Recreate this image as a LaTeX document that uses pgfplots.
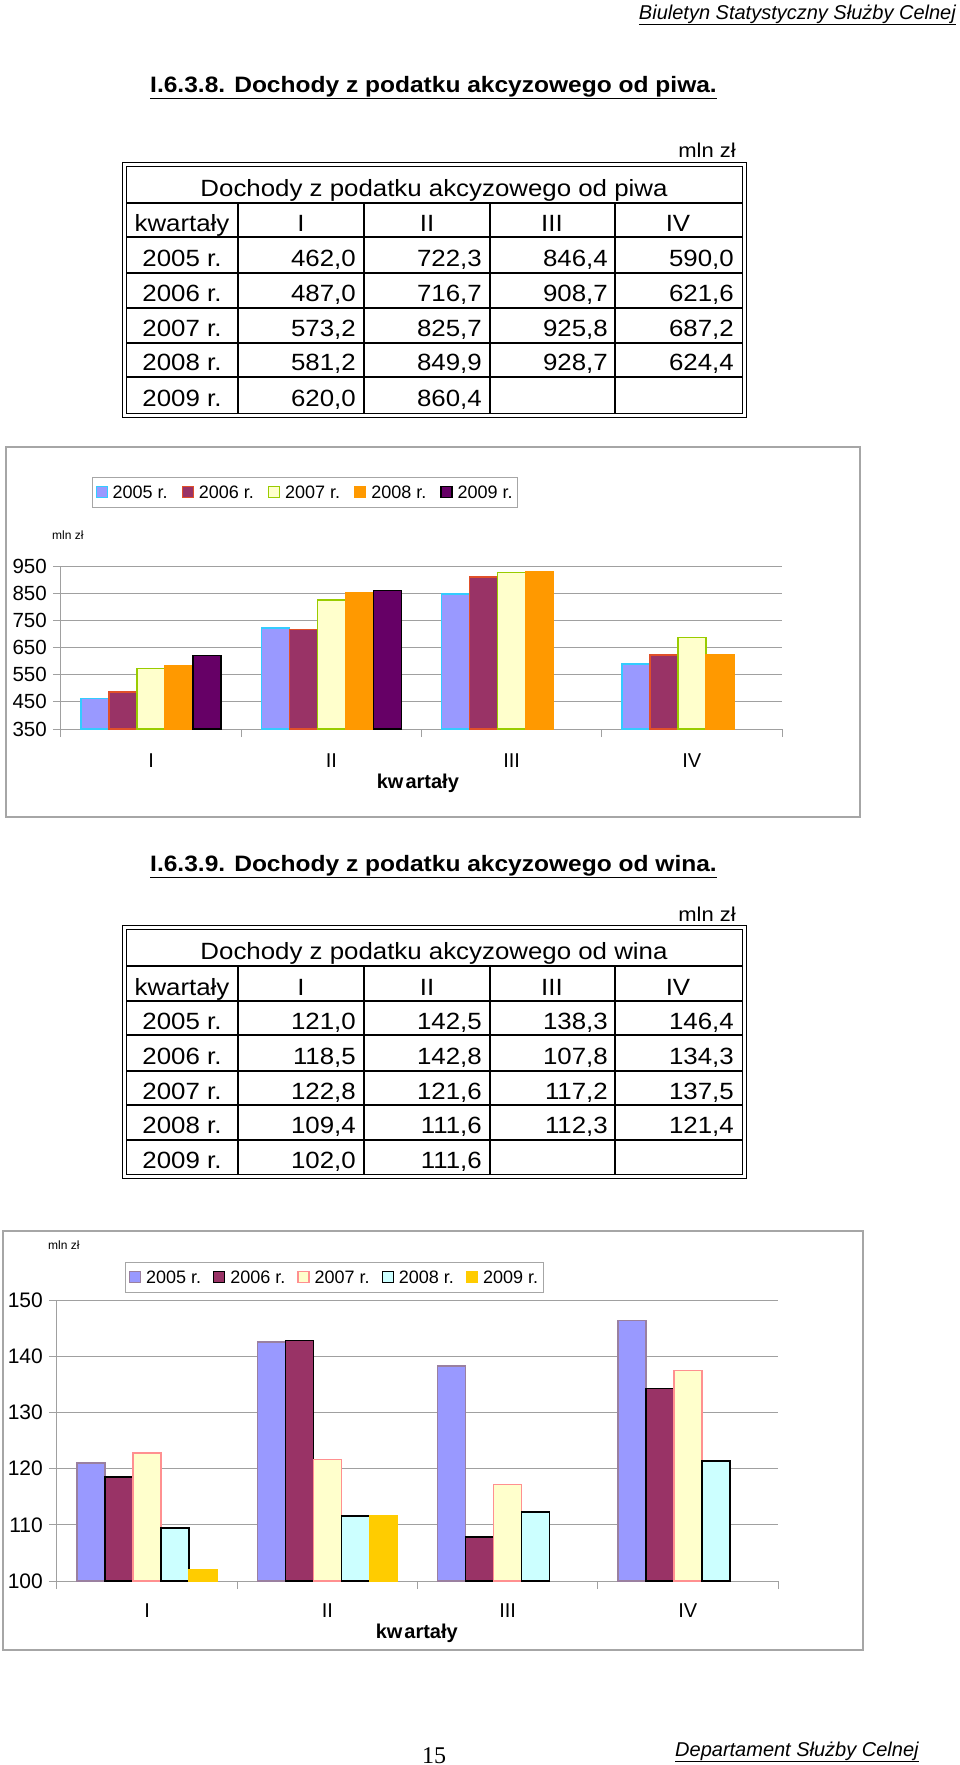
\documentclass[border=0pt]{standalone}
\usepackage{pgfplots}
\pgfplotsset{compat=1.18}
\usepackage{fontspec}
\setmainfont{Liberation Sans}
\newfontfamily\tabfont[FakeStretch=1.1]{Liberation Sans}
\newfontfamily\serifont{Liberation Serif}
\newcommand\fs[1]{\fontsize{#1}{#1}\selectfont}
% chart 1 colours
\definecolor{aF}{HTML}{9999FF}\definecolor{aD}{HTML}{33CCFF}
\definecolor{bF}{HTML}{993366}\definecolor{bD}{HTML}{E0502A}
\definecolor{cF}{HTML}{FFFFCC}\definecolor{cD}{HTML}{99CC00}
\definecolor{dF}{HTML}{FF9900}\definecolor{dD}{HTML}{FF9900}
\definecolor{eF}{HTML}{660066}\definecolor{eD}{HTML}{000000}
% chart 2 colours
\definecolor{fF}{HTML}{9999FF}\definecolor{fD}{HTML}{9A80A0}
\definecolor{gF}{HTML}{993366}\definecolor{gD}{HTML}{000000}
\definecolor{hF}{HTML}{FFFFCC}\definecolor{hD}{HTML}{FF9090}
\definecolor{iF}{HTML}{CCFFFF}\definecolor{iD}{HTML}{000000}
\definecolor{jF}{HTML}{FFCC00}\definecolor{jD}{HTML}{FFCC00}
\definecolor{gridc}{HTML}{A0A0A0}
\definecolor{framec}{HTML}{A6A6A6}
% one table row: baseline, year, four values
\newcommand\trow[6]{%
  \node[anchor=base, inner sep=0pt] at (182,#1) {#2 r.};
  \node[anchor=base east, inner sep=0pt] at (356,#1) {#3};
  \node[anchor=base east, inner sep=0pt] at (482,#1) {#4};
  \node[anchor=base east, inner sep=0pt] at (608,#1) {#5};
  \node[anchor=base east, inner sep=0pt] at (734,#1) {#6};
}
\pgfplotsset{
  barchart/.style={
    scale only axis, width=721pt,
    xmin=-0.5, xmax=3.5,
    xtick={-0.5,0.5,1.5,2.5,3.5}, xticklabels={,,,,},
    extra x ticks={0,1,2,3}, extra x tick labels={I,II,III,IV},
    extra x tick style={major tick length=0pt, grid=none},
    axis x line*=bottom, axis y line*=left,
    axis line style={-, draw=gridc, line width=1pt},
    tick align=outside, major tick length=8pt,
    tick style={draw=gridc, line width=1pt},
    ymajorgrids, grid style={draw=gridc, line width=1pt},
    ybar=0pt, bar width=28pt,
    /pgf/number format/assume math mode=true,
    yticklabel style={inner sep=0pt, xshift=-6pt},
    xticklabel style={font=\fs{20}, anchor=base},
    xlabel={\textbf{kw\kern2pt artały}},
    legend columns=5,
    legend image code/.code={\draw[##1, line width=1.2pt] (0pt,-5pt) rectangle (11pt,6pt);},
  }
}
\begin{document}
\begin{tikzpicture}[x=1pt,y=-1pt]
\useasboundingbox (0,0) rectangle (960,1765);
% header and footer
\node[anchor=base east, inner sep=0pt, font=\fs{20}\itshape] at (956,19) {\underline{Biuletyn Statystyczny Służby Celnej}};
\node[anchor=base west, inner sep=0pt, font=\serifont\fs{24}] at (422,1763) {15};
\node[anchor=base west, inner sep=0pt, font=\fs{20}\itshape] at (675,1756) {\underline{Departament Służby Celnej}};
% titles
\node[anchor=base west, inner sep=0pt, font=\tabfont\fs{22.3}\bfseries] at (150,92) {\underline{I.6.3.8. Dochody z podatku akcyzowego od piwa.}};
\node[anchor=base west, inner sep=0pt, font=\tabfont\fs{22.3}\bfseries] at (150,871) {\underline{I.6.3.9. Dochody z podatku akcyzowego od wina.}};
% ---------- table 1 ----------
\begin{scope}[font=\tabfont\fs{23.5}]
\node[anchor=base east, inner sep=0pt, font=\tabfont\fs{20}] at (736,157) {mln zł};
\draw[line width=0.8pt] (122,162) rectangle (746,417);
\draw[line width=0.8pt] (126,166) rectangle (742,413);
\foreach \yy in {203,237,273,308,343,377} \draw[line width=1.1pt] (126,\yy) -- (742,\yy);
\foreach \xx in {238,364,490,615} \draw[line width=1.1pt] (\xx,203) -- (\xx,413);
\node[anchor=base, inner sep=0pt] at (434,196) {Dochody z podatku akcyzowego od piwa};
\node[anchor=base, inner sep=0pt] at (182,231) {kwartały};
\node[anchor=base, inner sep=0pt] at (301,231) {I};
\node[anchor=base, inner sep=0pt] at (427,231) {II};
\node[anchor=base, inner sep=0pt] at (552,231) {III};
\node[anchor=base, inner sep=0pt] at (678,231) {IV};
\trow{266}{2005}{462,0}{722,3}{846,4}{590,0}
\trow{301}{2006}{487,0}{716,7}{908,7}{621,6}
\trow{336}{2007}{573,2}{825,7}{925,8}{687,2}
\trow{370}{2008}{581,2}{849,9}{928,7}{624,4}
\trow{406}{2009}{620,0}{860,4}{}{}
\end{scope}
% ---------- table 2 ----------
\begin{scope}[font=\tabfont\fs{23.5}]
\node[anchor=base east, inner sep=0pt, font=\tabfont\fs{20}] at (736,921) {mln zł};
\draw[line width=0.8pt] (122,925) rectangle (746,1178);
\draw[line width=0.8pt] (126,929) rectangle (742,1174);
\foreach \yy in {966,1001,1035,1071,1105,1140} \draw[line width=1.1pt] (126,\yy) -- (742,\yy);
\foreach \xx in {238,364,490,615} \draw[line width=1.1pt] (\xx,966) -- (\xx,1174);
\node[anchor=base, inner sep=0pt] at (434,959) {Dochody z podatku akcyzowego od wina};
\node[anchor=base, inner sep=0pt] at (182,995) {kwartały};
\node[anchor=base, inner sep=0pt] at (301,995) {I};
\node[anchor=base, inner sep=0pt] at (427,995) {II};
\node[anchor=base, inner sep=0pt] at (552,995) {III};
\node[anchor=base, inner sep=0pt] at (678,995) {IV};
\trow{1029}{2005}{121,0}{142,5}{138,3}{146,4}
\trow{1064}{2006}{118,5}{142,8}{107,8}{134,3}
\trow{1099}{2007}{122,8}{121,6}{117,2}{137,5}
\trow{1133}{2008}{109,4}{111,6}{112,3}{121,4}
\trow{1168}{2009}{102,0}{111,6}{}{}
\end{scope}
% ---------- chart 1 ----------
\draw[framec, line width=1.2pt] (6,447) rectangle (860,817);
\node[anchor=base west, inner sep=0pt, font=\fs{12}] at (52,539) {mln zł};
\begin{axis}[barchart,
  at={(61pt,-729pt)}, anchor=south west, height=163pt,
  ymin=350, ymax=950, ytick={350,450,...,950},
  yticklabel style={font=\fs{20.5}},
  xticklabel style={yshift=-38pt},
  xlabel style={font=\fs{20}, at={(axis description cs:0.495,0)}, anchor=base, yshift=-59pt},
  legend style={at={(axis description cs:0.043,1.546)}, anchor=north west,
    draw=framec, line width=1pt, font=\fs{18}, inner xsep=3pt, inner ysep=6pt,
    /tikz/every odd column/.append style={column sep=3pt},
    /tikz/every even column/.append style={column sep=12pt}},
]
\addplot[fill=aF, draw=aD, line width=1.5pt] coordinates {(0,462.0) (1,722.3) (2,846.4) (3,590.0)};
\addplot[fill=bF, draw=bD, line width=1.5pt] coordinates {(0,487.0) (1,716.7) (2,908.7) (3,621.6)};
\addplot[fill=cF, draw=cD, line width=1.5pt] coordinates {(0,573.2) (1,825.7) (2,925.8) (3,687.2)};
\addplot[fill=dF, draw=dD, line width=1.5pt] coordinates {(0,581.2) (1,849.9) (2,928.7) (3,624.4)};
\addplot[fill=eF, draw=eD, line width=1.5pt] coordinates {(0,620.0) (1,860.4)};
\legend{2005 r.,2006 r.,2007 r.,2008 r.,2009 r.}
\end{axis}
% ---------- chart 2 ----------
\draw[framec, line width=1.2pt] (3,1231) rectangle (863,1650);
\node[anchor=base west, inner sep=0pt, font=\fs{12}] at (48,1249) {mln zł};
\begin{axis}[barchart,
  at={(57pt,-1581pt)}, anchor=south west, height=281pt,
  ymin=100, ymax=150, ytick={100,110,...,150},
  yticklabel style={font=\fs{21}},
  xticklabel style={yshift=-36pt},
  xlabel style={font=\fs{20}, at={(axis description cs:0.499,0)}, anchor=base, yshift=-57pt},
  legend style={at={(axis description cs:0.095,1.135)}, anchor=north west,
    draw=framec, line width=1pt, font=\fs{18}, inner xsep=3pt, inner ysep=6pt,
    /tikz/every odd column/.append style={column sep=3pt},
    /tikz/every even column/.append style={column sep=10pt}},
]
\addplot[fill=fF, draw=fD, line width=1.5pt] coordinates {(0,121.0) (1,142.5) (2,138.3) (3,146.4)};
\addplot[fill=gF, draw=gD, line width=1.5pt] coordinates {(0,118.5) (1,142.8) (2,107.8) (3,134.3)};
\addplot[fill=hF, draw=hD, line width=1.5pt] coordinates {(0,122.8) (1,121.6) (2,117.2) (3,137.5)};
\addplot[fill=iF, draw=iD, line width=1.5pt] coordinates {(0,109.4) (1,111.6) (2,112.3) (3,121.4)};
\addplot[fill=jF, draw=jD, line width=1.5pt] coordinates {(0,102.0) (1,111.6)};
\legend{2005 r.,2006 r.,2007 r.,2008 r.,2009 r.}
\end{axis}
\end{tikzpicture}
\end{document}
